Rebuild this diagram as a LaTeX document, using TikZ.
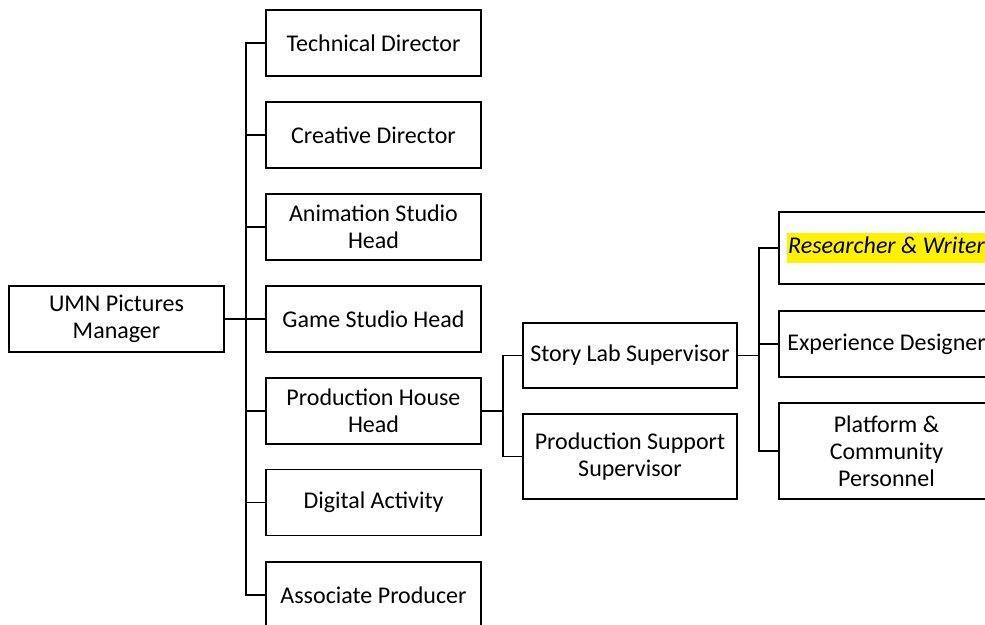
\documentclass[tikz,border=0pt]{standalone}
\usepackage{fontspec}
\setmainfont{Carlito}
\usepackage{xcolor}
\usetikzlibrary{calc}
\setlength{\fboxsep}{1.5pt}

\begin{document}
\begin{tikzpicture}[x=1pt,y=-1pt,
    post/.style={draw, line width=1.5pt, minimum width=215pt, minimum height=66pt,
        inner sep=0pt, align=center, font=\fontsize{24}{27}\selectfont},
    link/.style={line width=1.5pt}]
    \useasboundingbox (0,0) rectangle (985,624);
    \clip (0,0) rectangle (985,624);

    % top of the tree
    \node[post] (mgr) at (116.5,319) {UMN Pictures\\Manager};

    % first level
    \node[post] (tech)  at (373.5,43)    {Technical Director};
    \node[post] (crea)  at (373.5,135)   {Creative Director};
    \node[post] (anim)  at (373.5,227)   {Animation Studio\\Head};
    \node[post] (game)  at (373.5,319)   {Game Studio Head};
    \node[post] (prod)  at (373.5,411)   {Production House\\Head};
    \node[post] (digi)  at (373.5,502.5) {Digital Activity};
    \node[post] (assoc) at (373.5,595)   {Associate Producer};

    % second level
    \node[post, minimum width=214pt, minimum height=65pt] (story) at (630,355.5) {Story Lab Supervisor};
    \node[post, minimum width=214pt, minimum height=85pt] (supp)  at (630,456.5) {Production Support\\Supervisor};

    % third level
    \node[post, minimum height=72pt] (res)  at (886.5,248) {\colorbox{yellow}{\strut\itshape Researcher \& Writer}};
    \node[post]                      (exp)  at (886.5,344) {Experience Designer};
    \node[post, minimum height=96pt] (plat) at (886.5,451) {Platform \&\\Community\\Personnel};

    \foreach \n in {tech,crea,anim,game,prod,digi,assoc}
        \draw[link] (mgr.east) -- ++(21,0) |- (\n.west);
    \foreach \n in {story,supp}
        \draw[link] (prod.east) -- ++(21,0) |- (\n.west);
    \foreach \n in {res,exp,plat}
        \draw[link] (story.east) -- ++(21,0) |- (\n.west);
\end{tikzpicture}
\end{document}
